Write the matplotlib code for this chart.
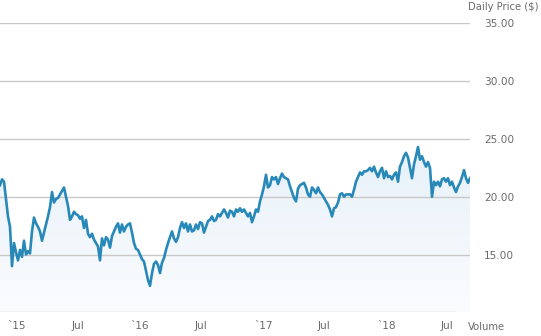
import matplotlib
matplotlib.use("Agg")
import matplotlib.pyplot as plt
import matplotlib.dates as mdates
import numpy as np
import pandas as pd

# daily close, sampled roughly every 6 days (Nov 2014 - Sep 2018)
prices = [
    21.0, 21.5, 21.3, 19.8, 18.3, 17.4, 14.0, 16.0, 15.2, 14.5,
    15.4, 14.8, 16.2, 15.0, 15.3, 15.1, 17.0, 18.2, 17.7, 17.4,
    17.0, 16.2, 16.9, 17.6, 18.3, 19.1, 20.4, 19.5, 19.8, 19.9,
    20.2, 20.5, 20.8, 20.0, 19.2, 18.0, 18.3, 18.7, 18.5, 18.4,
    18.1, 18.3, 17.3, 18.0, 16.8, 16.5, 16.8, 16.3, 16.0, 15.7,
    14.5, 16.4, 15.8, 16.5, 16.3, 15.6, 16.6, 17.0, 17.4, 17.7,
    16.9, 17.6, 17.0, 17.4, 17.6, 17.7, 16.9, 16.0, 15.5, 15.4,
    15.0, 14.6, 14.4, 13.6, 12.8, 12.3, 13.4, 14.2, 14.4, 14.1,
    13.4, 14.3, 14.7, 15.4, 16.0, 16.5, 17.0, 16.4, 16.1, 16.5,
    17.3, 17.8, 17.3, 17.7, 17.0, 17.6, 17.0, 17.1, 17.6, 17.2,
    17.8, 17.7, 16.9, 17.4, 17.9, 18.0, 18.3, 17.9, 18.0, 18.5,
    18.3, 18.6, 18.9, 18.6, 18.2, 18.8, 18.7, 18.3, 18.9, 18.7,
    19.0, 18.7, 18.9, 18.6, 18.3, 18.6, 17.8, 18.3, 18.9, 18.7,
    19.6, 20.2, 20.9, 21.9, 20.8, 21.0, 21.7, 21.5, 21.7, 21.1,
    21.6, 22.0, 21.7, 21.6, 21.5, 20.9, 20.4, 19.9, 19.6, 20.7,
    21.0, 21.1, 21.2, 20.8, 20.2, 20.0, 20.8, 20.6, 20.3, 20.8,
    20.4, 20.2, 19.9, 19.6, 19.3, 18.9, 18.3, 19.0, 19.1, 19.5,
    20.2, 20.3, 20.0, 20.2, 20.2, 20.2, 20.0, 20.6, 21.3, 21.7,
    22.1, 21.9, 22.2, 22.2, 22.3, 22.5, 22.2, 22.6, 22.1, 21.7,
    22.2, 22.5, 21.6, 22.2, 21.7, 21.8, 21.5, 21.9, 22.1, 21.3,
    22.6, 23.0, 23.5, 23.8, 23.4, 22.5, 21.6, 22.8, 23.5, 24.3,
    23.2, 23.5, 23.0, 22.6, 23.0, 22.5, 20.0, 21.3, 21.0, 21.3,
    20.9, 21.5, 21.6, 21.3, 21.6, 21.0, 21.3, 20.8, 20.4, 20.9,
    21.2, 21.7, 22.3, 21.6, 21.2, 21.6,
]
dates = pd.date_range("2014-11-12", "2018-09-07", periods=len(prices))

y_ticks = [15, 20, 25, 30, 35]
x_ticks = ["2015-01-01", "2015-07-01", "2016-01-01", "2016-07-01",
           "2017-01-01", "2017-07-01", "2018-01-01", "2018-07-01"]
x_labels = ["`15", "Jul", "`16", "Jul", "`17", "Jul", "`18", "Jul"]

line_color = "#2889b9"
grey = "#6b6b6b"

fig = plt.figure(figsize=(5.41, 3.36), dpi=100)
ax = fig.add_axes([0, 0.0702, 470 / 541, 0.8607])

x = mdates.date2num(dates)
ax.set_xlim(x[0], x[-1])
ax.set_ylim(10, 35)

# gradient under the line, light blue fading to white
top_c = np.array([231, 241, 249]) / 255
bot_c = np.array([251, 252, 254]) / 255
t = np.linspace(0, 1, 256)[:, None]
grad = (top_c * (1 - t) + bot_c * t)[:, None, :].repeat(2, axis=1)
img = ax.imshow(grad, extent=[x[0], x[-1], 10, max(prices)], origin="upper",
                aspect="auto", zorder=1, interpolation="bilinear")
poly = ax.fill_between(x, prices, 10, color="none")
img.set_clip_path(poly.get_paths()[0], transform=ax.transData)

ax.plot(x, prices, color=line_color, lw=1.9, zorder=3, solid_joinstyle="round")

for v in y_ticks:
    ax.axhline(v, color="#c8c8c8", lw=1, zorder=2)
ax.axhline(10, xmax=455 / 470, color="#c8c8c8", lw=1, zorder=2)

for s in ax.spines.values():
    s.set_visible(False)

ax.yaxis.tick_right()
ax.set_yticks(y_ticks)
ax.set_yticklabels([f"{v:.2f}" for v in y_ticks])
ax.tick_params(axis="y", length=0, pad=10, labelsize=7.6, labelcolor=grey)

ax.set_xticks(mdates.date2num(pd.to_datetime(x_ticks)))
ax.set_xticklabels(x_labels)
ax.tick_params(axis="x", length=0, pad=6, labelsize=7.6, labelcolor=grey)

fig.text(468 / 541, 1 - 7 / 336, "Daily Price ($)", fontsize=7.2, color=grey,
         ha="left", va="center")
fig.text(468 / 541, 1 - 327 / 336, "Volume", fontsize=7.2, color=grey,
         ha="left", va="center")

fig.savefig("out.png", dpi=100)
